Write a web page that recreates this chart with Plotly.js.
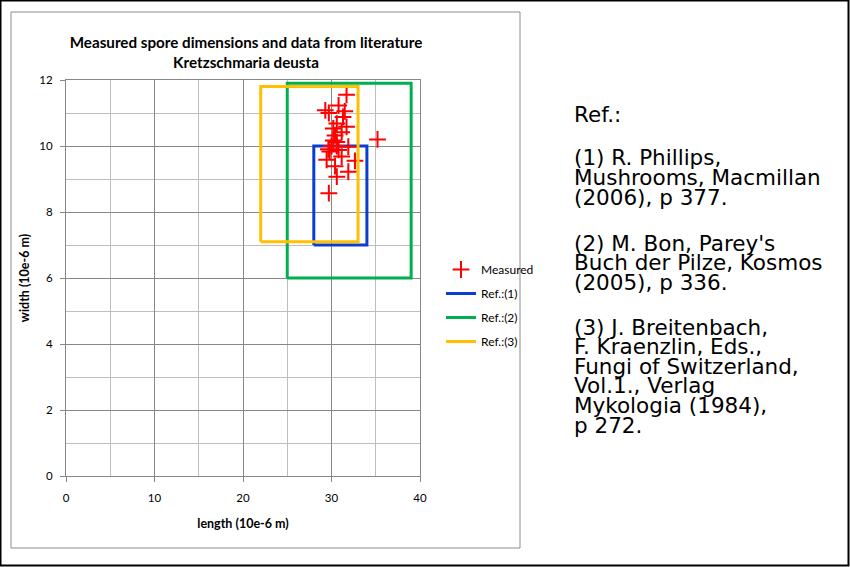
<!DOCTYPE html>
<html>
<head>
<meta charset="utf-8">
<script src="https://cdn.plot.ly/plotly-3.0.1.min.js"></script>
<style>html,body{margin:0;padding:0;background:#fff;}#chart{width:850px;height:567px;}</style>
</head>
<body>
<div id="chart"></div>
<script>
// Measured spore dimensions (length, width) in 10e-6 m
const measuredLength = [31.7, 30.8, 31.5, 29.3, 29.7, 31.3, 30.6, 31.7, 30.2, 31.15, 30.4, 30.2, 30.6, 35.2, 30.0, 30.6, 31.9, 29.65, 30.8, 29.8, 31.15, 29.45, 32.65, 30.4, 31.9, 30.6, 29.7];
const measuredWidth  = [11.55, 11.23, 11.05, 11.08, 11.0, 10.88, 10.68, 10.58, 10.53, 10.42, 10.32, 10.17, 10.12, 10.2, 10.0, 10.0, 9.98, 9.9, 9.88, 9.83, 9.68, 9.58, 9.55, 9.39, 9.22, 9.07, 8.57];

// Literature ranges: [min, max]
const refNames   = ["Ref.:(1)", "Ref.:(2)", "Ref.:(3)"];
const refLength  = [[28, 34], [25, 39], [22, 33]];
const refWidth   = [[7, 10], [6, 11.9], [7.1, 11.8]];
const refColors  = ["#0A3ED0", "#00B050", "#FFC000"];

const xTicks = [0, 10, 20, 30, 40];
const yTicks = [0, 2, 4, 6, 8, 10, 12];

const refLines = [
  "Ref.:",
  "(1) R. Phillips,", "Mushrooms, Macmillan", "(2006), p 377.",
  "(2) M. Bon, Parey's", "Buch der Pilze, Kosmos", "(2005), p 336.",
  "(3) J. Breitenbach,", "F. Kraenzlin, Eds.,", "Fungi of Switzerland,", "Vol.1., Verlag", "Mykologia (1984),", "p 272."
];
const refLineY = [115, 157, 177, 197, 243, 262, 282, 327, 346, 366, 385, 405, 425];

// layout geometry
const W = 850, H = 567;
const plotL = 66, plotR = 420, plotT = 80, plotB = 476;
const px = v => (v - plotL) / (plotR - plotL);
const py = v => (plotB - v) / (plotB - plotT);

function rectTrace(i, rank) {
  const [x0, x1] = refLength[i];
  const [y0, y1] = refWidth[i];
  return {
    type: 'scatter', mode: 'lines', name: refNames[i],
    x: [x0, x1, x1, x0, x0], y: [y0, y0, y1, y1, y0],
    line: {color: refColors[i], width: 3},
    legendrank: rank, legendgroup: 'g' + rank,
    hoverinfo: 'skip'
  };
}

const traces = [
  rectTrace(0, 2),
  {
    type: 'scatter', mode: 'markers', name: 'Measured',
    x: measuredLength, y: measuredWidth,
    marker: {symbol: 'cross-thin', size: 12, color: '#FF0000', line: {color: '#FF0000', width: 2}},
    legendrank: 1, legendgroup: 'g1'
  },
  rectTrace(1, 3),
  rectTrace(2, 4)
];

const gridMajor = '#878787', gridMinor = '#BEBEBE';
const tickFont = {family: 'Lato, "Open Sans", sans-serif', size: 11.5, color: '#000'};
const boldFont = {family: 'Lato, "Open Sans", sans-serif', size: 12.5, color: '#000', weight: 'bold'};

const annotations = refLines.map((t, i) => ({
  text: t, xref: 'paper', yref: 'paper', x: px(572), y: py(refLineY[i]),
  xanchor: 'left', yanchor: 'middle', showarrow: false,
  font: {family: '"DejaVu Sans", Verdana, sans-serif', size: 21.5, color: '#000'}
}));

const layout = {
  width: W, height: H,
  margin: {l: plotL, r: W - plotR, t: plotT, b: H - plotB, pad: 0},
  paper_bgcolor: '#fff', plot_bgcolor: '#fff',
  showlegend: true,
  title: {
    text: '<b>Measured spore dimensions and data from literature<br>Kretzschmaria deusta</b>',
    font: {family: 'Lato, "Open Sans", sans-serif', size: 15.2, color: '#000'},
    xref: 'paper', x: px(246), xanchor: 'center',
    yref: 'container', y: 1 - 48 / H, yanchor: 'middle'
  },
  xaxis: {
    range: [0, 40], tickvals: xTicks, ticktext: xTicks.map(String),
    showgrid: true, gridcolor: gridMajor, gridwidth: 1,
    minor: {dtick: 5, tick0: 0, showgrid: true, gridcolor: gridMinor, gridwidth: 1, ticks: ''},
    showline: true, linecolor: gridMajor, linewidth: 1, mirror: true,
    ticks: 'outside', ticklen: 5, tickcolor: gridMajor, tickwidth: 1,
    zeroline: false, tickfont: tickFont, ticklabelstandoff: 6,
    title: {text: 'length (10e-6 m)', font: boldFont, standoff: 16},
    fixedrange: true
  },
  yaxis: {
    range: [0, 12], tickvals: yTicks, ticktext: yTicks.map(String),
    showgrid: true, gridcolor: gridMajor, gridwidth: 1,
    minor: {dtick: 1, tick0: 0, showgrid: true, gridcolor: gridMinor, gridwidth: 1, ticks: ''},
    showline: true, linecolor: gridMajor, linewidth: 1, mirror: true,
    ticks: 'outside', ticklen: 5, tickcolor: gridMajor, tickwidth: 1,
    zeroline: false, tickfont: tickFont, ticklabelstandoff: 5,
    title: {text: 'width (10e-6 m)', font: boldFont, standoff: 6},
    fixedrange: true
  },
  legend: {
    x: px(441), y: py(255), xanchor: 'left', yanchor: 'top',
    font: {family: 'Lato, "Open Sans", sans-serif', size: 12, color: '#000'},
    bgcolor: 'rgba(0,0,0,0)', borderwidth: 0,
    traceorder: 'grouped', tracegroupgap: 5
  },
  shapes: [
    {type: 'rect', xref: 'paper', yref: 'paper', x0: px(11), x1: px(520), y0: py(548), y1: py(12),
     line: {color: '#8C8C8C', width: 1}, fillcolor: 'rgba(0,0,0,0)', layer: 'below'},
    {type: 'rect', xref: 'paper', yref: 'paper', x0: px(0.5), x1: px(848.5), y0: py(565.5), y1: py(0.5),
     line: {color: '#000', width: 2}, fillcolor: 'rgba(0,0,0,0)', layer: 'below'}
  ],
  annotations: annotations
};

Plotly.newPlot('chart', traces, layout, {displayModeBar: false, staticPlot: true});
</script>
</body>
</html>
